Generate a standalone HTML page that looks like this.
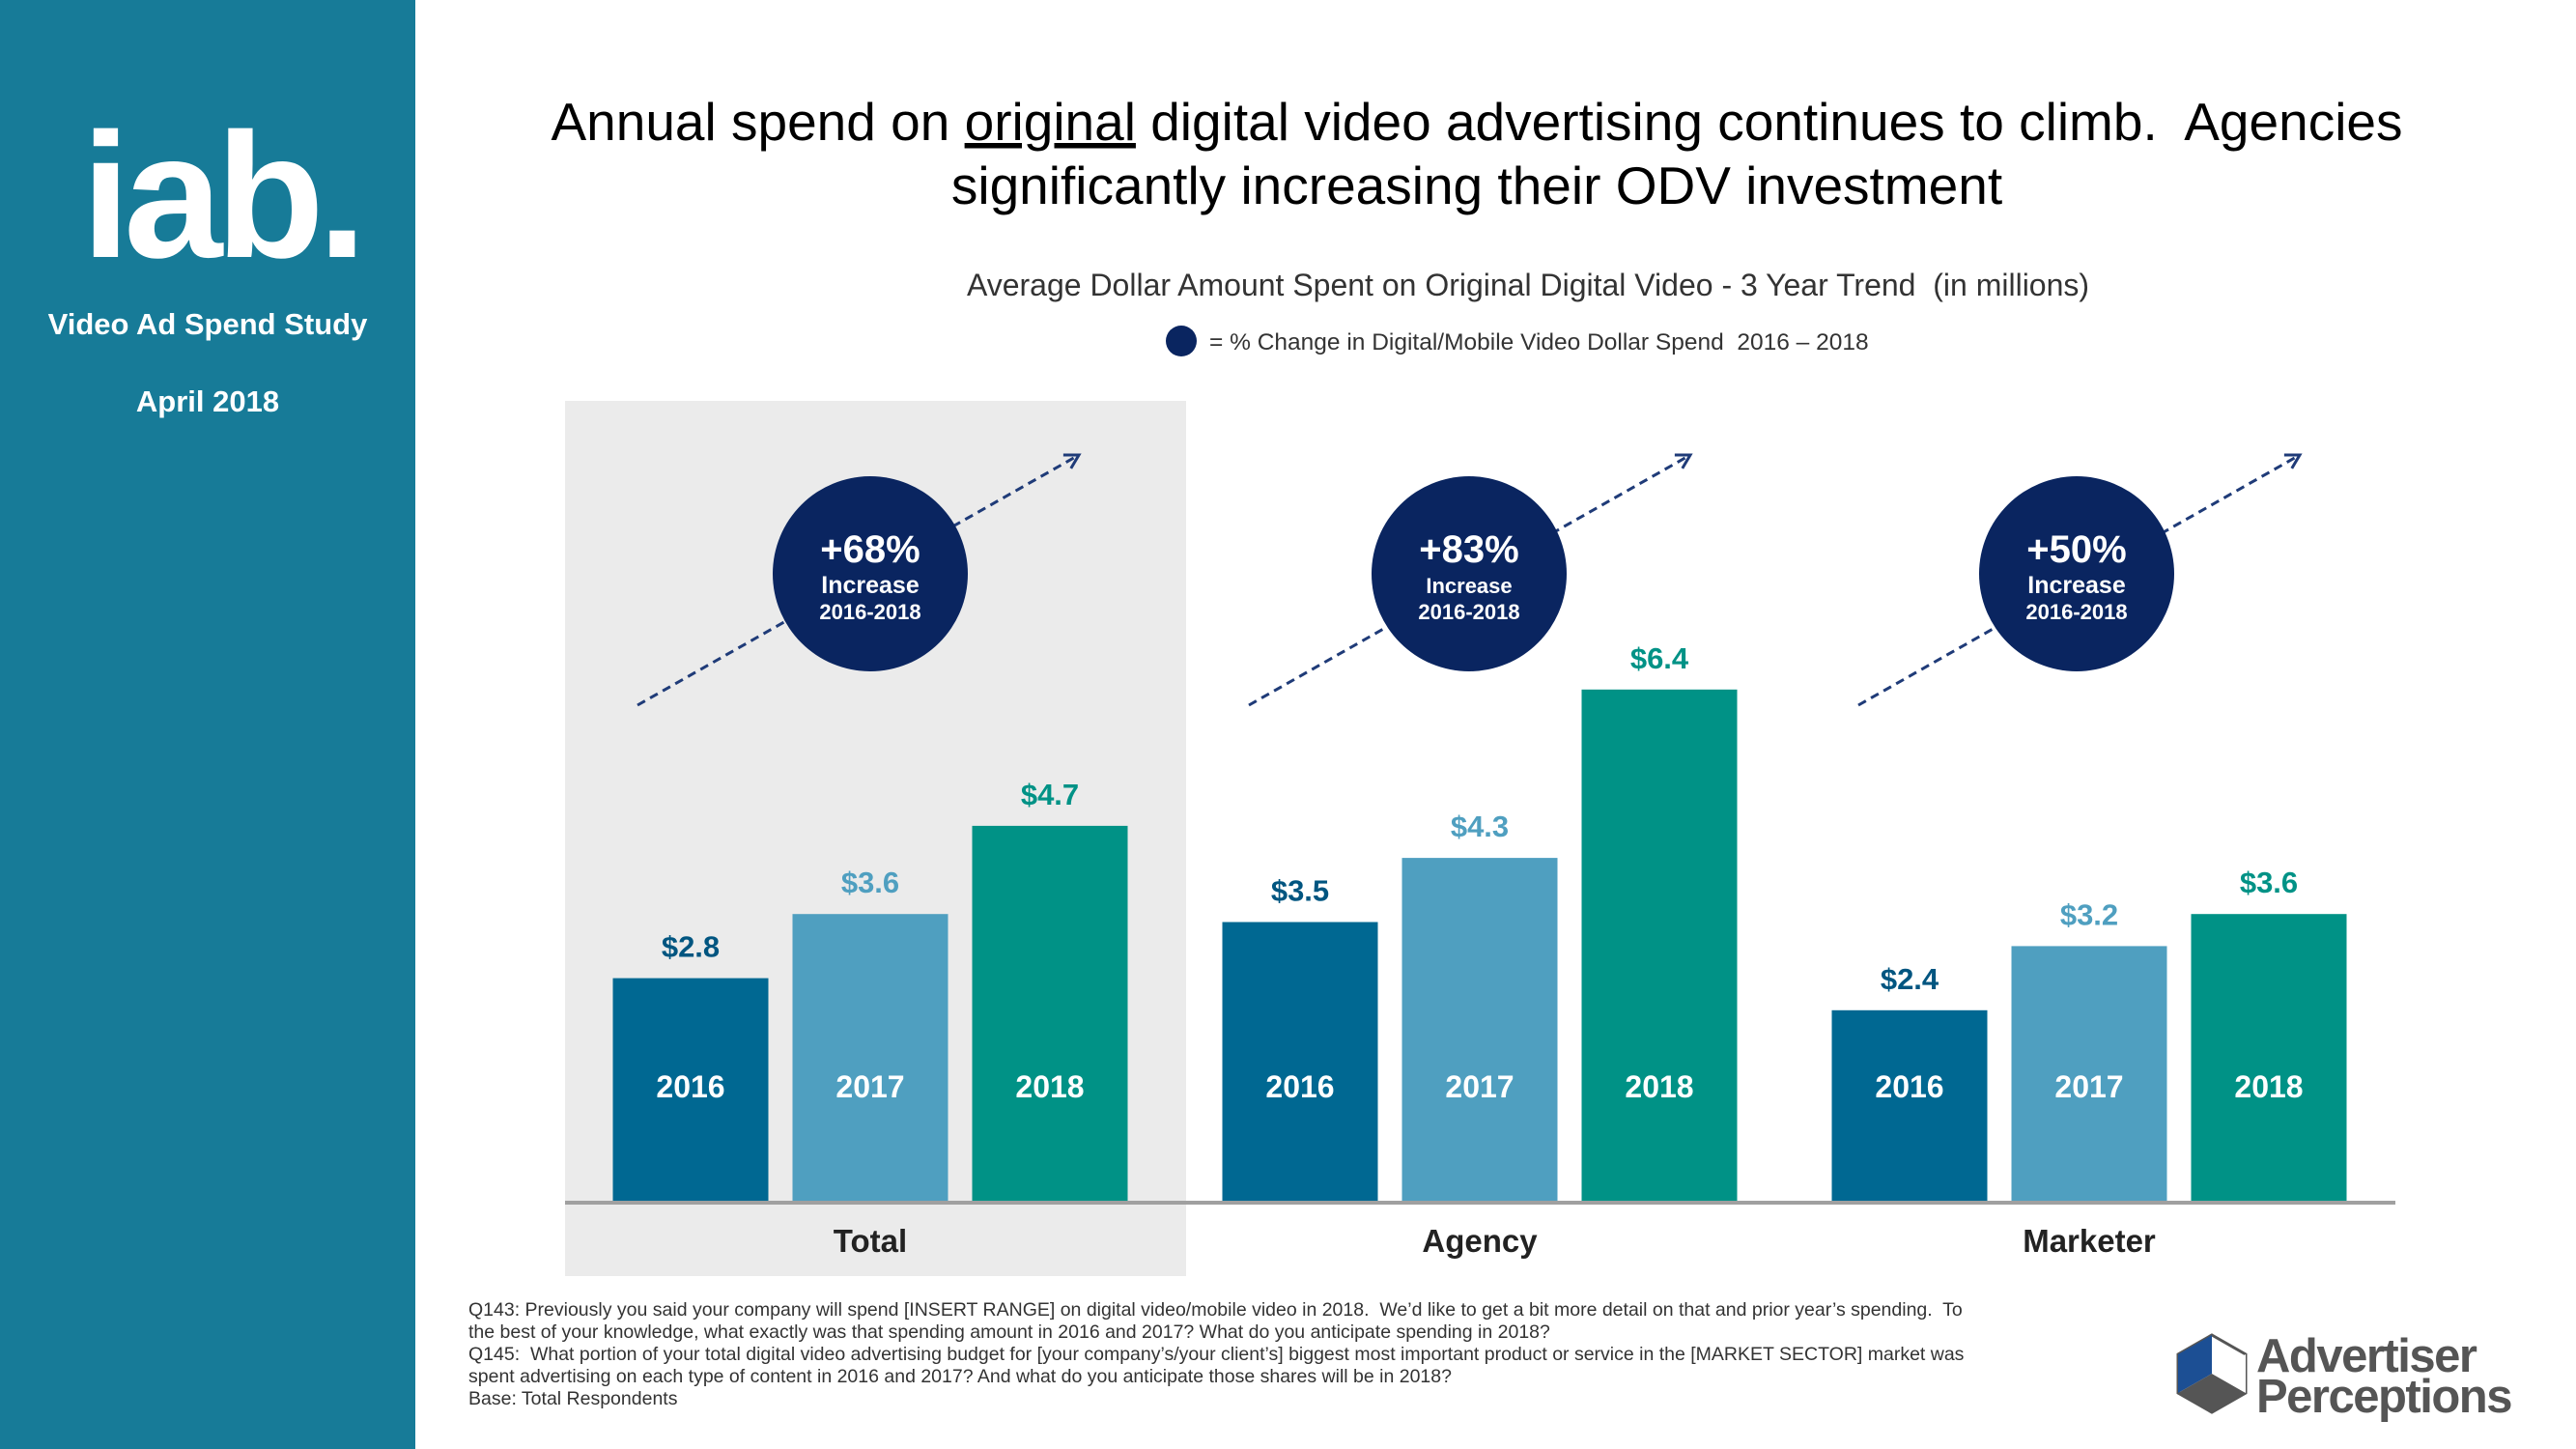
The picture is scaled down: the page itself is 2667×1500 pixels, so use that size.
<!DOCTYPE html>
<html><head><meta charset="utf-8"><style>
html,body{margin:0;padding:0;width:2667px;height:1500px;overflow:hidden;background:#fff;font-family:"Liberation Sans",sans-serif;}
#side{position:absolute;left:0;top:0;width:430px;height:1500px;background:#177b98;}
.st{position:absolute;width:430px;text-align:center;color:#fff;font-weight:bold;}
svg text{white-space:pre;}
</style></head><body>
<div id="side">
  <div style="position:absolute;left:84px;top:110px;font-size:184px;letter-spacing:-7px;line-height:184px;color:#fff;font-weight:bold;">iab.</div>
  <div class="st" style="top:318px;font-size:31px;">Video Ad Spend Study</div>
  <div class="st" style="top:398px;font-size:31px;">April 2018</div>
</div>
<svg id="chart" width="2667" height="1500" style="position:absolute;left:0;top:0" xmlns="http://www.w3.org/2000/svg" font-family="Liberation Sans, sans-serif">
<defs><marker id="ah" markerWidth="22" markerHeight="22" refX="18" refY="11" orient="auto" markerUnits="userSpaceOnUse" viewBox="0 0 22 22"><path d="M4,3 L18,11 L4,19" fill="none" stroke="#1f3b78" stroke-width="3"/></marker></defs>
<text x="1529" y="145" text-anchor="middle" font-size="55" fill="#000">Annual spend on <tspan text-decoration="underline">original</tspan> digital video advertising continues to climb.  Agencies</text>
<text x="1529" y="211" text-anchor="middle" font-size="55" fill="#000">significantly increasing their ODV investment</text>
<text x="1582" y="306" text-anchor="middle" font-size="32" fill="#333">Average Dollar Amount Spent on Original Digital Video - 3 Year Trend  (in millions)</text>
<circle cx="1223" cy="353" r="16" fill="#0a2560"/>
<text x="1252" y="362" font-size="24.5" fill="#333">= % Change in Digital/Mobile Video Dollar Spend  2016 – 2018</text>
<rect x="585" y="415" width="643" height="906" fill="#ebebeb"/>
<g id="bars"></g>
<line x1="585" y1="1245" x2="2480" y2="1245" stroke="#a0a0a0" stroke-width="4"/>
<text font-size="19.5" fill="#333">
<tspan x="485" y="1362">Q143: Previously you said your company will spend [INSERT RANGE] on digital video/mobile video in 2018.  We’d like to get a bit more detail on that and prior year’s spending.  To</tspan>
<tspan x="485" y="1385">the best of your knowledge, what exactly was that spending amount in 2016 and 2017? What do you anticipate spending in 2018?</tspan>
<tspan x="485" y="1408">Q145:  What portion of your total digital video advertising budget for [your company’s/your client’s] biggest most important product or service in the [MARKET SECTOR] market was</tspan>
<tspan x="485" y="1431">spent advertising on each type of content in 2016 and 2017? And what do you anticipate those shares will be in 2018?</tspan>
<tspan x="485" y="1454">Base: Total Respondents</tspan>
</text>
<g>
<polygon points="2290,1382 2325,1402 2325,1442 2290,1462 2255,1442 2255,1402" fill="#fff" stroke="#555" stroke-width="3"/>
<polygon points="2290,1382 2255,1402 2255,1442 2290,1422" fill="#1c4f94"/>
<polygon points="2255,1442 2290,1422 2325,1442 2290,1462" fill="#555"/>
<polygon points="2290,1422 2325,1442 2325,1402" fill="#fff"/>
<text x="2336" y="1420" font-size="49" font-weight="bold" fill="#555" letter-spacing="-1.5">Advertiser</text>
<text x="2336" y="1462" font-size="49" font-weight="bold" fill="#555" letter-spacing="-1.5">Perceptions</text>
</g>
</svg>
<script>
const groups = ["Total","Agency","Marketer"];
const years = ["2016","2017","2018"];
const v2016 = [2.8,3.5,2.4];
const v2017 = [3.6,4.3,3.2];
const v2018 = [4.7,6.4,3.6];
const pctChange = ["+68%","+83%","+50%"];
const NS="http://www.w3.org/2000/svg";
const baseY=1245, pxPerUnit=83, barW=161, barStep=186;
const groupX = i => 901 + i*631;
const yScale = v => baseY - v*pxPerUnit;
const fills=["#006892","#4f9fc0","#009286"];
const lblFills=["#005580","#4f9fc0","#009286"];
const bars=document.getElementById('bars');
function mk(tag,attrs,parent){const e=document.createElementNS(NS,tag);for(const k in attrs)e.setAttribute(k,attrs[k]);parent.appendChild(e);return e;}
const series=[v2016,v2017,v2018];
groups.forEach((g,i)=>{
  const cx=groupX(i);
  series.forEach((s,j)=>{
    const x=cx+(j-1)*barStep-barW/2;
    const y=yScale(s[i]);
    const r=mk('rect',{x:x,y:y,width:barW,height:baseY-y,fill:fills[j]},bars);
    
    
    const t=mk('text',{x:x+barW/2,y:y-22,'text-anchor':'middle','font-size':31,'font-weight':'bold',fill:lblFills[j]},bars);
    t.textContent='$'+s[i].toFixed(1);
    
    
    const yl=mk('text',{x:x+barW/2,y:1136,'text-anchor':'middle','font-size':32,'font-weight':'bold',fill:'#fff'},bars);
    yl.textContent=years[j];
    
    
  });
  const gl=mk('text',{x:cx,y:1296,'text-anchor':'middle','font-size':33,'font-weight':'bold',fill:'#222'},bars);
  gl.textContent=g;
  
  
  const ccx=[901,1521,2150][i];
  const ax=[660,1293,1924][i];
  const ln=mk('line',{x1:ax,y1:730,x2:ax+457,y2:471,stroke:'#1f3b78','stroke-width':3,'stroke-dasharray':'9,6','marker-end':'url(#ah)'},bars);
  
  
  const c=mk('circle',{cx:ccx,cy:594,r:101,fill:'#0a2560'},bars);
  
  
  const t1=mk('text',{x:ccx,y:582,'text-anchor':'middle','font-size':40,'font-weight':'bold',fill:'#fff'},bars);
  t1.textContent=pctChange[i];
  
  
  const t2=mk('text',{x:ccx,y:614,'text-anchor':'middle','font-size':i==1?22:25,'font-weight':'bold',fill:'#fff'},bars);
  t2.textContent='Increase';
  
  
  const t3=mk('text',{x:ccx,y:641,'text-anchor':'middle','font-size':22,'font-weight':'bold',fill:'#fff'},bars);
  t3.textContent='2016-2018';
  
  
});
</script>
</body></html>
